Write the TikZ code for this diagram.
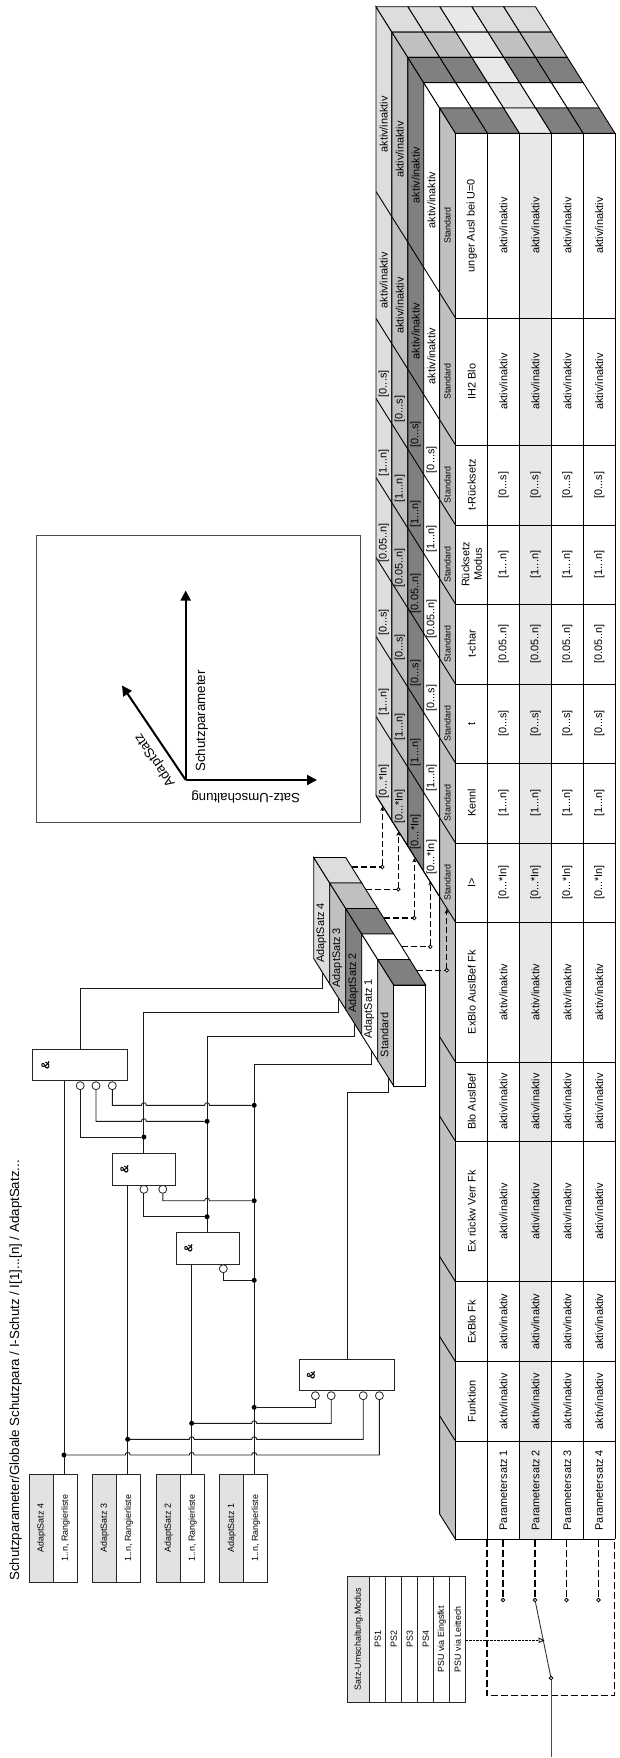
\documentclass[tikz,border=0pt]{standalone}
\usepackage{fontspec}
\setmainfont{Liberation Sans}
\usetikzlibrary{arrows.meta}
\definecolor{lgrey}{HTML}{DDDDDD}
\definecolor{mgrey}{HTML}{C0C0C0}
\definecolor{dgrey}{HTML}{808080}
\definecolor{rowgrey}{HTML}{E8E8E8}
\definecolor{hgrey}{HTML}{E2E2E2}
\definecolor{wirec}{HTML}{1A1A1A}
\def\ai{aktiv/inaktiv}
\newcommand\hopl[2]{-- (#1+2.5,#2) .. controls (#1+2.5,#2-3.4) and (#1-2.5,#2-3.4) .. (#1-2.5,#2)}
\newcommand\hopr[2]{-- (#1-2.5,#2) .. controls (#1-2.5,#2-3.4) and (#1+2.5,#2-3.4) .. (#1+2.5,#2)}
\tikzset{
  txt/.style={rotate=90,inner sep=0pt,font=\fontsize{10.9}{12.5}\selectfont,align=center},
  small/.style={rotate=90,inner sep=0pt,font=\fontsize{8.9}{10}\selectfont},
  big/.style={inner sep=0pt,font=\fontsize{13.3}{15}\selectfont},
  edge/.style={line width=0.9pt,draw=black},
  wire/.style={line width=0.9pt,draw=wirec},
  dashw/.style={line width=1.5pt,draw=black,dash pattern=on 6pt off 3pt},
  gate/.style={draw=black!85,line width=0.9pt,fill=white,rectangle,inner sep=0pt,outer sep=0pt},
  inv/.style={draw=black!85,line width=0.8pt,fill=white,circle,minimum size=8pt,inner sep=0pt,outer sep=0pt},
  jdot/.style={fill=black,circle,minimum size=5pt,inner sep=0pt,outer sep=0pt},
  tiny/.style={draw=black,line width=0.8pt,fill=white,circle,minimum size=3.6pt,inner sep=0pt,outer sep=0pt},
  cell/.style={draw=black!85,line width=0.9pt,rectangle,inner sep=0pt,outer sep=0pt},
  amp/.style={rotate=90,inner sep=0pt,font=\fontsize{11.5}{12}\selectfont\bfseries},
  axis/.style={line width=2pt,-{Triangle[length=10pt,width=10pt]}},
  smalltip/.style={-{Stealth[length=4.5pt,width=4pt]}}
}
\begin{document}
\begin{tikzpicture}[x=1pt,y=-1pt]
\useasboundingbox (0,0) rectangle (620,1758);
% ---- title
\node[big,rotate=90,anchor=west] (title) at (15.6,1581) {Schutzparameter/Globale Schutzpara / I-Schutz / I[1]...[n] / AdaptSatz...};
% ---- axes box
\node[draw=black!70,line width=0.9pt,minimum width=324pt,minimum height=287pt,inner sep=0pt,outer sep=0pt] (axbox) at (198.8,678.5) {};
\coordinate (ax0) at (185.7,780);
\coordinate (axu) at (185.7,590.5);
\coordinate (axr) at (317,780);
\coordinate (axd) at (122,685.5);
\draw[axis] (ax0) -- (axu);
\draw[axis] (ax0) -- (axr);
\draw[axis] (ax0) -- (axd);
\node[big,rotate=90] (lschutz) at (201.7,721) {Schutzparameter};
\node[big,rotate=180] (lsatz) at (245.7,797) {Satz-Umschaltung};
\node[big,rotate=124] (ladapt) at (155,760) {AdaptSatz};
% ---- big 3D table: layer side strips
\foreach \j/\c in {4/lgrey,3/mgrey,2/dgrey,1/white}{
  \filldraw[edge,fill=\c] ({455.5-15.9*\j},{133.3-25.3*\j}) -- ({455.5-15.9*(\j+1)},{133.3-25.3*(\j+1)}) -- ({455.5-15.9*(\j+1)},{922-25.3*(\j+1)}) -- ({455.5-15.9*\j},{922-25.3*\j}) -- cycle;
}
\filldraw[edge,fill=mgrey] (455.5,133.3) -- (439.6,108) -- (439.6,1514) -- (455.5,1539.3) -- cycle;
% top faces
\foreach \j/\c in {4/lgrey,3/mgrey,2/dgrey,1/white,0/dgrey}{
  \foreach \xa/\xb/\rr in {455.5/487.5/0,487.5/519.5/1,519.5/551.5/2,551.5/583.3/3,583.3/615/4}{
    \ifnum\rr=2 \def\cc{rowgrey}\else\def\cc{\c}\fi
    \filldraw[edge,fill=\cc] ({\xa-15.9*\j},{133.3-25.3*\j}) -- ({\xb-15.9*\j},{133.3-25.3*\j}) -- ({\xb-15.9*(\j+1)},{133.3-25.3*(\j+1)}) -- ({\xa-15.9*(\j+1)},{133.3-25.3*(\j+1)}) -- cycle;
  }
}
% slants across layers
\foreach \y in {318,445,525,604,684,763,843,922}{
  \draw[edge] (455.5,\y) -- (376,{\y-126.5});
}
\foreach \y in {1062,1141.3,1281.7,1361.7,1441}{
  \draw[edge] (455.5,\y) -- (439.6,{\y-25.3});
}
% layer labels
\foreach \yc/\val in {225.5/\ai,381.5/\ai,485/{[0...s]},564.5/{[1...n]},644/{[0.05..n]},723.5/{[0...s]},803/{[1...n]},882.5/{[0...*In]}}{
  \node[small] at (447.4,\yc) {Standard};
  \foreach \j in {1,2,3,4}{
    \node[txt] at ({447.4-15.9*\j},{\yc-25.3*\j}) {\val};
  }
}
% front table
\fill[white] (455.5,133.3) rectangle (615,1539.3);
\fill[rowgrey] (519.5,133.3) rectangle (551.5,1539.3);
\foreach \y in {133.3,318,445,525,604,684,763,843,922,1062,1141.3,1281.7,1361.7,1441,1539.3}{
  \draw[edge] (455.5,\y) -- (615,\y);
}
\foreach \x in {455.5,487.5,519.5,551.5,583.3,615}{
  \draw[edge] (\x,133.3) -- (\x,1539.3);
}
\foreach \yc/\hd/\val in {
  225.6/{unger Ausl bei U=0}/\ai,
  381.5/{IH2 Blo}/\ai,
  485/{t-Rücksetz}/{[0...s]},
  564.5/{Rücksetz\\Modus}/{[1...n]},
  644/{t-char}/{[0.05..n]},
  723.5/{t}/{[0...s]},
  803/{Kennl}/{[1...n]},
  882.5/{I>}/{[0...*In]},
  992/{ExBlo AuslBef Fk}/\ai,
  1101.6/{Blo AuslBef}/\ai,
  1211.5/{Ex rückw Verr Fk}/\ai,
  1321.7/{ExBlo Fk}/\ai,
  1401.3/{Funktion}/\ai}{
  \node[txt] at (471.7,\yc) {\hd};
  \foreach \xc in {503.5,535.5,567.4,599.2}{
    \node[txt] at (\xc,\yc) {\val};
  }
}
\foreach \xc/\n in {503.5/1,535.5/2,567.4/3,599.2/4}{
  \node[txt] at (\xc,1490.3) {Parametersatz \n};
}
% ---- small 3D block
\foreach \j/\c in {4/lgrey,3/mgrey,2/dgrey,1/white,0/mgrey}{
  \filldraw[edge,fill=\c] ({393.7-16*\j},{985-25.5*\j}) -- ({393.7-16*(\j+1)},{985-25.5*(\j+1)}) -- ({393.7-16*(\j+1)},{1086-25.5*(\j+1)}) -- ({393.7-16*\j},{1086-25.5*\j}) -- cycle;
}
\foreach \j/\c in {4/lgrey,3/mgrey,2/dgrey,1/white,0/dgrey}{
  \filldraw[edge,fill=\c] ({393.7-16*\j},{985-25.5*\j}) -- ({425.7-16*\j},{985-25.5*\j}) -- ({425.7-16*(\j+1)},{985-25.5*(\j+1)}) -- ({393.7-16*(\j+1)},{985-25.5*(\j+1)}) -- cycle;
}
\node[draw=black,line width=0.9pt,fill=white,minimum width=32pt,minimum height=101pt,inner sep=0pt,outer sep=0pt] (block) at (409.7,1035.5) {};
\node[txt] (bl4) at (321.3,933) {AdaptSatz 4};
\node[txt] (bl3) at (337.3,957.7) {AdaptSatz 3};
\node[txt] (bl2) at (353.3,983) {AdaptSatz 2};
\node[txt] (bl1) at (369,1009) {AdaptSatz 1};
\node[txt] (bl0) at (384.5,1035) {Standard};
% ---- dashed links block -> table
\foreach \n/\xs/\xe/\y/\yt in {4/351.8/382.3/867/806.5,3/365.8/398.3/889.3/831.5,2/383.8/414.3/918/858,1/401.5/430.3/946.7/881,0/416.5/446.7/970.3/909}{
  \node[tiny] (lk\n) at (\xe,\y) {};
  \coordinate (ls\n) at (\xs,\y);
  \coordinate (lt\n) at (\xe,\yt);
  \draw[dashw] (ls\n) -- (lk\n);
  \draw[dashw,smalltip] (lk\n) -- (lt\n);
}
% ---- left boxes
\foreach \n/\xa/\xb/\lab in {A/41.3/65.5/4,B/104.6/128.7/3,C/168.5/192.5/2,D/231.8/255.8/1}{
  \node[cell,fill=hgrey,minimum width=24pt,minimum height=108.3pt] (l\n) at (\xa,1528.2) {};
  \node[cell,fill=white,minimum width=24pt,minimum height=108.3pt] (r\n) at (\xb,1528.2) {};
  \node[small] at (l\n) {AdaptSatz \lab};
  \node[small] at (r\n) {1..n, Rangierliste};
}
% ---- gates
\node[gate,minimum width=95.3pt,minimum height=31pt] (g4) at (80.05,1065.2) {};
\node[gate,minimum width=62.9pt,minimum height=31.3pt] (g3) at (144.05,1169.4) {};
\node[gate,minimum width=62.8pt,minimum height=31.3pt] (g2) at (207.7,1248.4) {};
\node[gate,minimum width=95.3pt,minimum height=30.6pt] (g1) at (346.85,1375) {};
\node[amp] at (45.5,1065) {\&};
\node[amp] at (124.5,1169.3) {\&};
\node[amp] at (188.5,1248.3) {\&};
\node[amp] at (311,1375) {\&};
\foreach \n/\x/\y in {a/80.2/1085.7,b/96/1085.7,c/112.3/1085.7,d/143.9/1189.3,e/162.8/1189.3,f/223.3/1268.7,g/315.4/1395.7,h/331.2/1395.7,i/363.2/1395.7,j/379.4/1395.7}{
  \node[inv] (c\n) at (\x,\y) {};
}
% vertical buses and junctions
\coordinate (wA) at (64,1474);
\coordinate (wB) at (127.7,1474);
\coordinate (wC) at (191.7,1474);
\coordinate (wD) at (254.2,1474);
\coordinate (oE) at (143.9,1153.8);
\coordinate (oF) at (207.1,1232.8);
\coordinate (oG) at (80.2,1049.7);
\coordinate (oH) at (347,1359.7);
\coordinate (t4) at (322.1,972);
\coordinate (t3) at (338,997);
\coordinate (t2) at (354,1022.5);
\coordinate (t1) at (371.5,1050.5);
\coordinate (t0) at (388.5,1077.5);
\draw[wire] (wA) -- (wA |- g4.south);
\draw[wire] (wB) -- (wB |- g3.south);
\draw[wire] (wC) -- (wC |- g2.south);
\draw[wire] (wD) -- (254.2,1064.3) -| (t1);
\draw[wire] (oG) |- (322.1,988.3) -- (t4);
\draw[wire] (oE) |- (338,1012) -- (t3);
\draw[wire] (oF) |- (354,1036) -- (t2);
\draw[wire] (oH) |- (388.5,1092) -- (t0);
\foreach \n/\x/\y in {a/64/1455,b/127.7/1439.3,c/191.7/1423.3,d/254.2/1407.3,e/143.9/1137,f/207.1/1121.3,g/254.2/1105.3,h/207.1/1216.7,i/254.2/1200.7,j/254.2/1280.3}{
  \node[jdot] (j\n) at (\x,\y) {};
}
% wires with hops
\draw[wire] (cg.south) |- (jd);
\draw[wire] (ch.south) -- (331.2,1423.3) \hopl{254.2}{1423.3} -- (jc);
\draw[wire] (ci.south) -- (363.2,1439.3) \hopl{254.2}{1439.3} \hopl{191.7}{1439.3} -- (jb);
\draw[wire] (cj.south) -- (379.4,1455) \hopl{254.2}{1455} \hopl{191.7}{1455} \hopl{127.7}{1455} -- (ja);
\draw[wire] (ca.south) |- (je);
\draw[wire] (cb.south) -- (96,1121.3) \hopr{143.9}{1121.3} -- (jf);
\draw[wire] (cc.south) -- (112.3,1105.3) \hopr{143.9}{1105.3} \hopr{207.1}{1105.3} -- (jg);
\draw[wire] (cd.south) |- (jh);
\draw[wire] (ce.south) -- (162.8,1200.7) \hopr{207.1}{1200.7} -- (ji);
\draw[wire] (cf.south) |- (jj);
% ---- mode box
\node[cell,fill=hgrey,minimum width=22.2pt,minimum height=125.7pt] (m0) at (358.5,1639.2) {};
\node[small] at (m0) {Satz-Umschaltung.Modus};
\foreach \n/\xa/\xb/\lab in {1/369.6/385.8/PS1,2/385.8/401.6/PS2,3/401.6/417.8/PS3,4/417.8/433.6/PS4,5/433.6/449.8/PSU via Eingsfkt,6/449.8/465.6/PSU via Leittech}{
  \node[cell,fill=white,minimum width=16pt,minimum height=125.7pt] (m\n) at ({(\xa+\xb)/2},1639.2) {};
  \node[small] at (m\n) {\lab};
}
% ---- switch
\draw[dashw,dash pattern=on 7pt off 3pt] (487,1539.6) -- (487,1695.7) -- (614.6,1695.7) -- (614.6,1539.6) -- cycle;
\foreach \n/\x in {1/503,2/535,3/566.4,4/598.4}{
  \coordinate (sa\n) at (\x,1539.6);
  \node[tiny] (sw\n) at (\x,1600) {};
  \draw[dashw,dash pattern=on 7pt off 3pt] (sa\n) -- (sw\n);
}
\node[tiny] (swc) at (551,1678) {};
\coordinate (swend) at (551,1756.8);
\coordinate (armpt) at (544.5,1640.3);
\draw[line width=0.9pt,draw=black!70] (swc) -- (swend);
\draw[line width=0.9pt,draw=black!80] (sw2) -- (swc);
\draw[line width=1.5pt,dash pattern=on 2.5pt off 1pt,-{Triangle[open,fill=white,length=6pt,width=5.5pt,line width=0.8pt]}] (m6.east |- armpt) -- (armpt);
\end{tikzpicture}
\end{document}
